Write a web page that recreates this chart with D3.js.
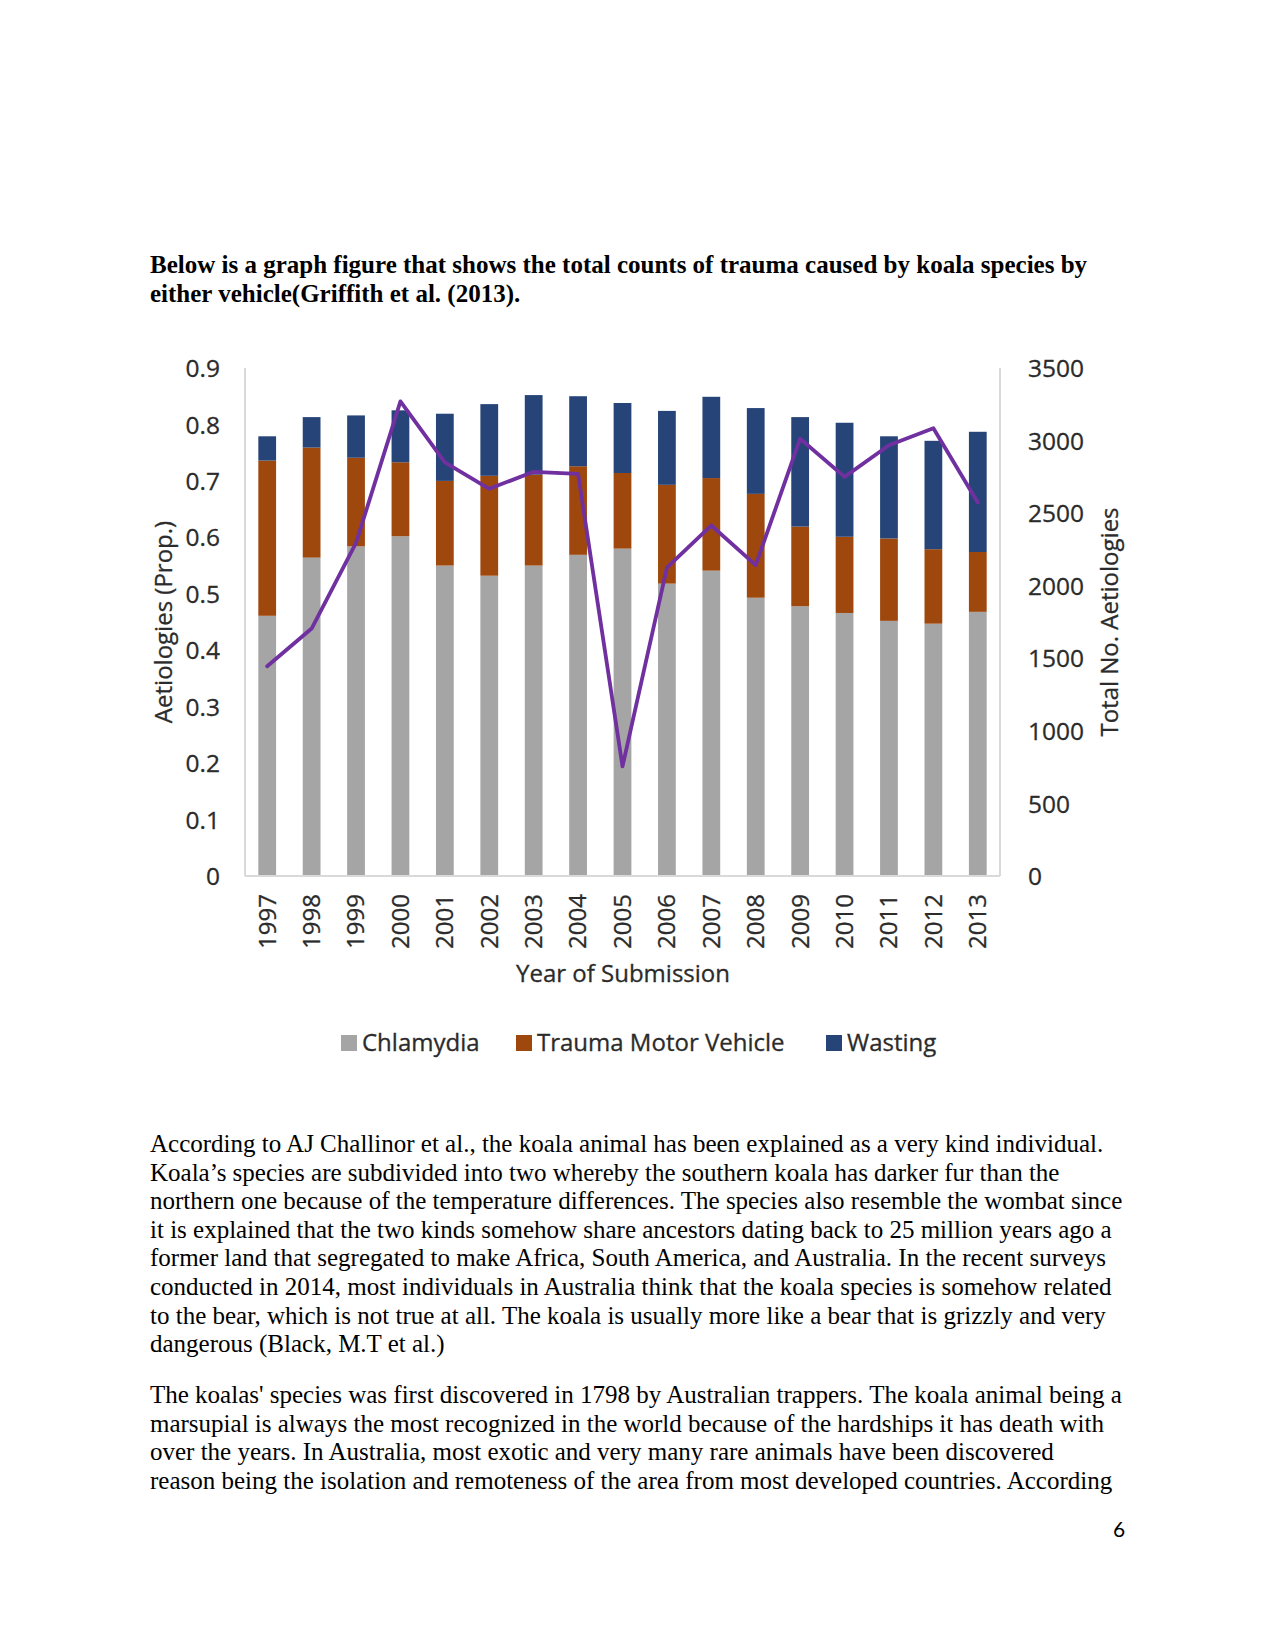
<!DOCTYPE html>
<html>
<head>
<meta charset="utf-8">
<script src="https://cdn.jsdelivr.net/npm/d3@7"></script>
<style>
  html, body { margin: 0; padding: 0; background: #fff; }
  svg { display: block; }
</style>
</head>
<body>
<svg id="page" width="1275" height="1651"></svg>
<script>
// ---- data ----
const years = ["1997","1998","1999","2000","2001","2002","2003","2004","2005","2006","2007","2008","2009","2010","2011","2012","2013"];
const seriesNames = ["Chlamydia", "Trauma Motor Vehicle", "Wasting"];
const chlamydia = [0.461,0.564,0.584,0.602,0.550,0.532,0.550,0.569,0.580,0.518,0.541,0.493,0.478,0.466,0.452,0.447,0.468];
const traumaMotorVehicle = [0.275,0.195,0.157,0.131,0.150,0.177,0.161,0.157,0.134,0.175,0.164,0.184,0.141,0.135,0.146,0.132,0.106];
const wasting = [0.043,0.054,0.075,0.092,0.119,0.127,0.141,0.124,0.124,0.131,0.144,0.152,0.194,0.202,0.181,0.192,0.213];
const totalAetiologies = [1445,1705,2295,3270,2850,2668,2785,2770,755,2125,2415,2142,3013,2750,2968,3085,2574];
const leftTicks = [0,0.1,0.2,0.3,0.4,0.5,0.6,0.7,0.8,0.9];
const rightTicks = [0,500,1000,1500,2000,2500,3000,3500];

const headingLines = [
  "Below is a graph figure that shows the total counts of trauma caused by koala species by",
  "either vehicle(Griffith et al. (2013)."
];
const para1 = [
  "According to AJ Challinor et al., the koala animal has been explained as a very kind individual.",
  "Koala\u2019s species are subdivided into two whereby the southern koala has darker fur than the",
  "northern one because of the temperature differences. The species also resemble the wombat since",
  "it is explained that the two kinds somehow share ancestors dating back to 25 million years ago a",
  "former land that segregated to make Africa, South America, and Australia. In the recent surveys",
  "conducted in 2014, most individuals in Australia think that the koala species is somehow related",
  "to the bear, which is not true at all. The koala is usually more like a bear that is grizzly and very",
  "dangerous (Black, M.T et al.)"
];
const para2 = [
  "The koalas' species was first discovered in 1798 by Australian trappers. The koala animal being a",
  "marsupial is always the most recognized in the world because of the hardships it has death with",
  "over the years. In Australia, most exotic and very many rare animals have been discovered",
  "reason being the isolation and remoteness of the area from most developed countries. According"
];
const pageNumber = "6";

// ---- page ----
const svg = d3.select("#page");
svg.append("rect").attr("width",1275).attr("height",1651).attr("fill","#fff");

const serif = "'Liberation Serif', 'Times New Roman', serif";
const chartFont = "'Open Sans', 'Noto Sans', sans-serif";

svg.append("g").selectAll("text").data(headingLines).join("text")
  .attr("x",150).attr("y",(d,i)=>273 + i*29.2)
  .attr("font-family",serif).attr("font-size",25).attr("font-weight","bold").attr("fill","#000")
  .text(d=>d);

svg.append("g").selectAll("text").data(para1).join("text")
  .attr("x",150).attr("y",(d,i)=>1152 + i*28.6)
  .attr("font-family",serif).attr("font-size",25).attr("fill","#000")
  .text(d=>d);

svg.append("g").selectAll("text").data(para2).join("text")
  .attr("x",150).attr("y",(d,i)=>1403 + i*28.6)
  .attr("font-family",serif).attr("font-size",25).attr("fill","#000")
  .text(d=>d);

svg.append("text").attr("x",1119).attr("y",1537).attr("text-anchor","middle")
  .attr("font-family","Lato, 'DejaVu Sans', sans-serif").attr("font-size",21).attr("fill","#000")
  .text(pageNumber);

// ---- chart ----
const plot = {left:245, right:1000, top:368, bottom:876};
const x = d3.scaleBand().domain(years).range([plot.left, plot.right]).paddingInner(0.6).paddingOuter(0.3);
const yL = d3.scaleLinear().domain([0,0.9]).range([plot.bottom, plot.top]);
const yR = d3.scaleLinear().domain([0,3500]).range([plot.bottom, plot.top]);
const colors = ["#A5A5A5", "#9E480E", "#264478"];
const lineColor = "#7030A0";
const textColor = "#2b2b2b";

const rows = years.map((yr,i)=>({year:yr, "Chlamydia":chlamydia[i], "Trauma Motor Vehicle":traumaMotorVehicle[i], "Wasting":wasting[i]}));
const stacked = d3.stack().keys(seriesNames)(rows);

const chart = svg.append("g");

chart.append("g").selectAll("g").data(stacked).join("g")
  .attr("fill",(d,i)=>colors[i])
  .selectAll("rect").data(d=>d).join("rect")
  .attr("x",d=>x(d.data.year))
  .attr("width",x.bandwidth())
  .attr("y",d=>yL(d[1]))
  .attr("height",d=>yL(d[0])-yL(d[1]));

// axes
const axisL = d3.axisLeft(yL).tickValues(leftTicks).tickSize(0).tickPadding(25).tickFormat(d=>d===0?"0":d3.format(".1f")(d));
const gL = chart.append("g").attr("transform",`translate(${plot.left},0)`).call(axisL);
const axisR = d3.axisRight(yR).tickValues(rightTicks).tickSize(0).tickPadding(28).tickFormat(d3.format("d"));
const gR = chart.append("g").attr("transform",`translate(${plot.right},0)`).call(axisR);
const axisB = d3.axisBottom(x).tickSize(0).tickPadding(0);
const gB = chart.append("g").attr("transform",`translate(0,${plot.bottom})`).call(axisB);

[gL,gR,gB].forEach(g=>{
  g.select(".domain").attr("stroke","#D9D9D9").attr("stroke-width",2);
  g.selectAll("text").attr("font-family",chartFont).attr("font-size",24.5).attr("fill",textColor)
    .attr("stroke",textColor).attr("stroke-width",0.3);
});
gL.select(".domain").attr("d",`M0,${plot.top}V${plot.bottom}`);
gR.select(".domain").attr("d",`M0,${plot.top}V${plot.bottom}`);
gB.select(".domain").attr("d",`M${plot.left},0H${plot.right}`);
gL.selectAll("text").attr("dy","0.35em");
gR.selectAll("text").attr("dy","0.35em");
gB.selectAll("text")
  .attr("transform","rotate(-90)")
  .attr("text-anchor","end")
  .attr("x",-18).attr("y",0).attr("dy","0.35em")
  .attr("font-size",24);

// total line
const line = d3.line().x((d,i)=>x(years[i])+x.bandwidth()/2).y(d=>yR(d));
chart.append("path").datum(totalAetiologies)
  .attr("d",line).attr("fill","none").attr("stroke",lineColor)
  .attr("stroke-width",3.8).attr("stroke-linejoin","round").attr("stroke-linecap","round");

// axis titles
const titleAttrs = sel => sel.attr("text-anchor","middle").attr("dy","0.35em")
  .attr("font-family",chartFont).attr("font-size",24).attr("fill",textColor)
  .attr("stroke",textColor).attr("stroke-width",0.3);
chart.append("text").attr("transform","translate(164,622) rotate(-90)").call(titleAttrs)
  .text("Aetiologies (Prop.)");
chart.append("text").attr("transform","translate(1110,622) rotate(-90)").call(titleAttrs)
  .text("Total No. Aetiologies");
chart.append("text").attr("x",623).attr("y",974).call(titleAttrs)
  .text("Year of Submission");

// legend
const legendX = [341, 516, 826];
const leg = chart.append("g").selectAll("g").data(seriesNames).join("g")
  .attr("transform",(d,i)=>`translate(${legendX[i]},1043)`);
leg.append("rect").attr("x",0).attr("y",-8).attr("width",16).attr("height",16).attr("fill",(d,i)=>colors[i]);
leg.append("text").attr("x",21).attr("y",0).attr("dy","0.35em")
  .attr("font-family",chartFont).attr("font-size",24).attr("fill",textColor)
  .attr("stroke",textColor).attr("stroke-width",0.3)
  .text(d=>d);
</script>
</body>
</html>
